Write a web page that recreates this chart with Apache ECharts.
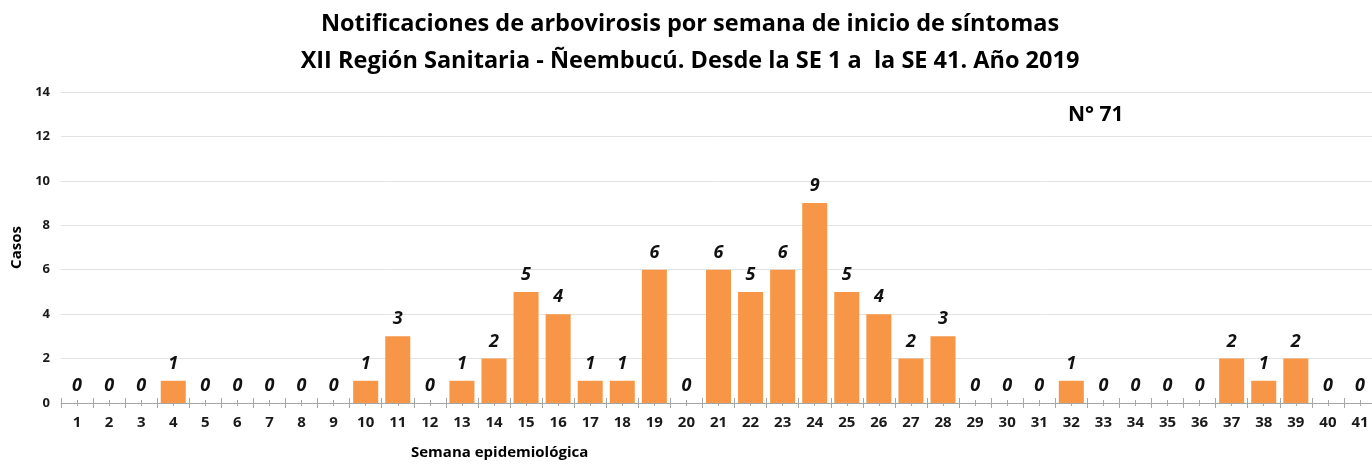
<!DOCTYPE html>
<html>
<head>
<meta charset="utf-8">
<script src="https://cdn.jsdelivr.net/npm/echarts@6/dist/echarts.min.js"></script>
<style>html,body{margin:0;padding:0;background:#fff;overflow:hidden}#c{width:1380px;height:464px}</style>
</head>
<body>
<div id="c"></div>
<script>
const weeks = ['1','2','3','4','5','6','7','8','9','10','11','12','13','14','15','16','17','18','19','20','21','22','23','24','25','26','27','28','29','30','31','32','33','34','35','36','37','38','39','40','41'];
const casos = [0,0,0,1,0,0,0,0,0,1,3,0,1,2,5,4,1,1,6,0,6,5,6,9,5,4,2,3,0,0,0,1,0,0,0,0,2,1,2,0,0];
const titleLines = ['Notificaciones de arbovirosis por semana de inicio de síntomas','XII Región Sanitaria - Ñeembucú. Desde la SE 1 a  la SE 41. Año 2019'];
const noteText = 'N° 71';
const yName = 'Casos';
const xName = 'Semana epidemiológica';

const FONT = '"Open Sans", sans-serif';
const chart = echarts.init(document.getElementById('c'));
const hiddenAxis = (tickOpts) => ({
  type: 'category', data: weeks, position: 'bottom', gridIndex: 0,
  axisLine: {show: false}, axisLabel: {show: false}, splitLine: {show: false},
  axisTick: Object.assign({show: true, lineStyle: {color: '#a6a6a6', width: 1}}, tickOpts)
});
chart.setOption({
  animation: false,
  title: {
    text: titleLines.join('\n'), left: 'center', top: 1,
    textStyle: {fontFamily: FONT, fontWeight: 'bold', fontSize: 23.5, lineHeight: 37, color: '#000'}
  },
  grid: {left: 61, top: 92, right: 4, bottom: 61, containLabel: false},
  xAxis: [
    {
      type: 'category', data: weeks,
      axisLine: {show: true, lineStyle: {color: '#a6a6a6', width: 1}},
      axisTick: {show: true, length: 5, lineStyle: {color: '#a6a6a6'}},
      axisLabel: {fontFamily: FONT, fontWeight: 'bold', fontSize: 15, color: '#1a1a1a', margin: 12, interval: 0},
      splitLine: {show: false}
    },
    hiddenAxis({length: 5, inside: true}),
    hiddenAxis({length: 3, alignWithLabel: true}),
    hiddenAxis({length: 3, alignWithLabel: true, inside: true})
  ],
  yAxis: {
    type: 'value', min: 0, max: 14, interval: 2,
    name: yName, nameLocation: 'middle', nameGap: 37, nameRotate: 90,
    nameTextStyle: {fontFamily: FONT, fontWeight: 'bold', fontSize: 15, color: '#000'},
    axisLine: {show: false}, axisTick: {show: false},
    axisLabel: {fontFamily: FONT, fontWeight: 'bold', fontSize: 13, color: '#1a1a1a', margin: 11},
    splitLine: {lineStyle: {color: '#e3e3e3', width: 1}}
  },
  series: [{
    type: 'bar', data: casos, xAxisIndex: 0,
    barCategoryGap: '22%',
    itemStyle: {color: '#F79646'},
    label: {show: true, position: 'top', distance: 8, fontFamily: FONT, fontWeight: 'bold', fontStyle: 'italic', fontSize: 18, color: '#111'}
  }],
  graphic: [
    {type: 'text', left: 1068, top: 105, style: {text: noteText, fontFamily: FONT, fontWeight: 'bold', fontSize: 21, fill: '#000'}},
    {type: 'text', left: 411, top: 445, style: {text: xName, fontFamily: FONT, fontWeight: 'bold', fontSize: 15, fill: '#000'}}
  ]
});
</script>
</body>
</html>
